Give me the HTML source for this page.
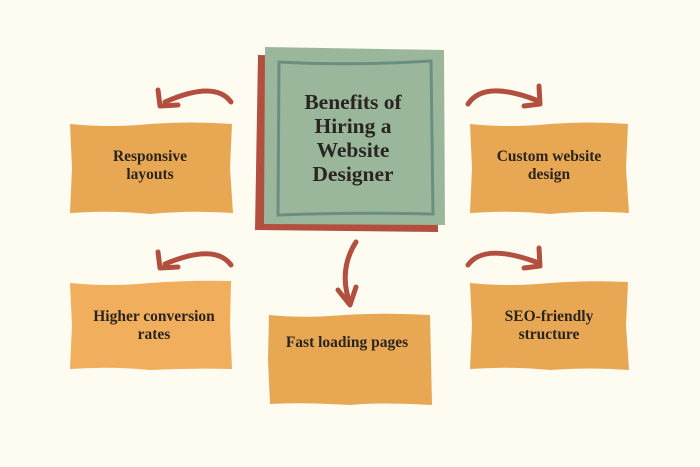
<!DOCTYPE html>
<html><head><meta charset="utf-8"><style>
html,body{margin:0;padding:0;background:#fefbf1;}
svg{display:block}
text{font-family:"Liberation Serif",serif;font-weight:bold;fill:#2a2520;text-anchor:middle}
</style></head><body>
<svg width="700" height="467" viewBox="0 0 700 467" xmlns="http://www.w3.org/2000/svg">
<rect width="700" height="467" fill="#fefbf1"/>
<!-- center -->
<path d="M258 55 L437 58 L438 232 L255 230 Z" fill="#b24f3e"/>
<path d="M265 47 L444 50 L445 225 L264 224 Z" fill="#9bb79b"/>
<path d="M279 62 Q350 66 431 61 L433 214 Q350 212 278 215 Z" fill="none" stroke="#6a8e80" stroke-width="3"/>
<text x="353" y="109" font-size="21.5">Benefits of</text>
<text x="353" y="133" font-size="21.5">Hiring a</text>
<text x="353" y="157" font-size="21.5">Website</text>
<text x="353" y="181" font-size="21.5">Designer</text>
<!-- boxes -->
<path d="M70 124 Q110 128 150 124 Q190 121 232 124 L230 168 L233 213 Q190 210 150 214 Q110 210 70 213 L72 168 Z" fill="#e8a752"/>
<text x="150" y="161" font-size="15.5">Responsive</text>
<text x="150" y="179" font-size="15.5">layouts</text>
<path d="M470 124 Q510 128 550 124 Q590 121 628 124 L626 168 L629 213 Q590 210 550 214 Q510 210 470 213 L472 168 Z" fill="#e8a752"/>
<text x="549" y="161" font-size="15.5">Custom website</text>
<text x="549" y="179" font-size="15.5">design</text>
<path d="M70 283 Q110 287 150 283 Q190 280 231 281 L230 325 L232 369 Q190 368 150 370 Q110 366 70 369 L72 325 Z" fill="#f1ae5d"/>
<text x="154" y="321" font-size="15.5">Higher conversion</text>
<text x="154" y="339" font-size="15.5">rates</text>
<path d="M470 283 Q510 287 550 283 Q590 280 628 282 L626 325 L629 370 Q590 367 550 370 Q510 366 470 369 L472 325 Z" fill="#e8a752"/>
<text x="549" y="321" font-size="15.5">SEO-friendly</text>
<text x="549" y="339" font-size="15.5">structure</text>
<path d="M269 315 Q300 318 330 316 Q380 312 430 315 L431 360 L432 405 Q380 402 350 405 Q300 402 270 404 L268 360 Z" fill="#e8a752"/>
<text x="347" y="347" font-size="15.5">Fast loading pages</text>
<!-- arrows -->
<g fill="none" stroke="#b24f3e" stroke-width="5" stroke-linecap="round" stroke-linejoin="round">
<path d="M231 102 Q215 80 165 102"/>
<path d="M158 90 L160 106 L178 105"/>
<path d="M468 104 Q484 80 536 100"/>
<path d="M539 86 L540 104 L524 106"/>
<path d="M231 265 Q215 243 165 264"/>
<path d="M158 252 L160 268 L178 267"/>
<path d="M468 265 Q484 243 536 262"/>
<path d="M539 248 L540 266 L524 268"/>
<path d="M356 242 Q338 270 350 304"/>
<path d="M338 290 L350 305 L356 287"/>
</g>
</svg>
</body></html>
